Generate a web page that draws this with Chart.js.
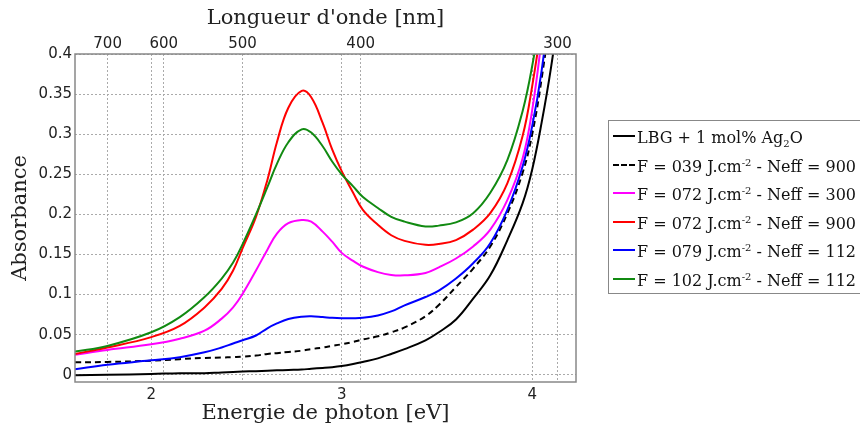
<!DOCTYPE html>
<html>
<head>
<meta charset="utf-8">
<script src="https://cdn.jsdelivr.net/npm/chart.js@4.4.1/dist/chart.umd.min.js"></script>
<style>
  html, body { margin: 0; padding: 0; background: #fff; }
  #wrap { position: relative; width: 860px; height: 429px; overflow: hidden; }
  #legend {
    position: absolute; left: 608px; top: 120px; width: 280px; height: 174px;
    box-sizing: border-box; border: 1.5px solid #888; background: #fff;
    font-family: "DejaVu Serif", serif; font-size: 16px; color: #111;
    padding-top: 3px;
  }
  .row { height: 28.5px; line-height: 28.5px; white-space: nowrap; position: relative; }
  .swatch { display: inline-block; width: 22px; margin: 0 2px 0 4px; vertical-align: 6px; border-top: 2px solid #000; }
  sup, sub { font-size: 10px; line-height: 0; }
</style>
</head>
<body>
<div id="wrap">
  <canvas id="absChart" width="860" height="429"></canvas>
  <div id="legend"></div>
</div>
<script>
// Photon energy grid (eV)
const energy = [1.60, 1.77, 2.00, 2.15, 2.28, 2.37, 2.43, 2.48, 2.55, 2.61, 2.66, 2.72, 2.79, 2.84, 2.90, 2.95, 3.00,
                3.06, 3.11, 3.19, 3.26, 3.33, 3.44, 3.51, 3.60, 3.69, 3.78, 3.87, 3.95, 4.00, 4.05, 4.10, 4.15, 4.20];

// Absorbance for each sample
const lbg = [-0.0005, 0, 0.001, 0.002, 0.002, 0.003, 0.0035, 0.004, 0.0045, 0.005, 0.0055, 0.006, 0.0065, 0.0075, 0.0085, 0.0095, 0.011,
             0.0135, 0.016, 0.0205, 0.026, 0.032, 0.043, 0.053, 0.069, 0.095, 0.124, 0.168, 0.214, 0.256, 0.315, 0.385, 0.47, 0.58];
const f039n900 = [0.0155, 0.016, 0.0175, 0.0195, 0.021, 0.0215, 0.022, 0.0225, 0.024, 0.026, 0.027, 0.0285, 0.030, 0.032, 0.034, 0.036, 0.038,
                  0.041, 0.044, 0.048, 0.053, 0.059, 0.073, 0.087, 0.1095, 0.1325, 0.16, 0.2015, 0.252, 0.30, 0.37, 0.46, 0.60, 0.78];
const f072n300 = [0.025, 0.031, 0.038, 0.045, 0.055, 0.070, 0.084, 0.101, 0.130, 0.156, 0.176, 0.189, 0.193, 0.191, 0.1785, 0.166, 0.152,
                  0.142, 0.135, 0.128, 0.1245, 0.124, 0.127, 0.134, 0.145, 0.160, 0.181, 0.218, 0.27, 0.33, 0.42, 0.53, 0.68, 0.85];
const f072n900 = [0.026, 0.034, 0.047, 0.061, 0.084, 0.107, 0.130, 0.158, 0.197, 0.243, 0.290, 0.333, 0.354, 0.346, 0.314, 0.281, 0.254,
                  0.227, 0.206, 0.187, 0.174, 0.167, 0.162, 0.163, 0.168, 0.181, 0.2015, 0.239, 0.298, 0.36, 0.44, 0.55, 0.70, 0.90];
const f079n112 = [0.007, 0.0125, 0.018, 0.022, 0.028, 0.034, 0.039, 0.043, 0.049, 0.058, 0.064, 0.0695, 0.0725, 0.073, 0.072, 0.071, 0.0705,
                  0.0705, 0.071, 0.074, 0.079, 0.0865, 0.097, 0.105, 0.120, 0.139, 0.164, 0.206, 0.26, 0.31, 0.38, 0.48, 0.62, 0.80];
const f102n112 = [0.029, 0.036, 0.053, 0.072, 0.097, 0.120, 0.140, 0.163, 0.200, 0.234, 0.263, 0.290, 0.306, 0.302, 0.285, 0.266, 0.25,
                  0.235, 0.222, 0.208, 0.197, 0.191, 0.185, 0.186, 0.190, 0.2015, 0.227, 0.268, 0.329, 0.385, 0.46, 0.57, 0.72, 0.90];

const seriesLabels = [
  'LBG + 1 mol% Ag<sub>2</sub>O',
  'F = 039 J.cm<sup>-2</sup> - Neff = 900',
  'F = 072 J.cm<sup>-2</sup> - Neff = 300',
  'F = 072 J.cm<sup>-2</sup> - Neff = 900',
  'F = 079 J.cm<sup>-2</sup> - Neff = 112',
  'F = 102 J.cm<sup>-2</sup> - Neff = 112'
];
const seriesData = [lbg, f039n900, f072n300, f072n900, f079n112, f102n112];
const seriesColors = ['#000000', '#000000', '#ff00ff', '#ff0000', '#0000ff', '#118a11'];
const seriesDash = [[], [6, 4], [], [], [], []];

// Axis ticks
const energyTicks = [2, 3, 4];
const wavelengthTicks = [700, 600, 500, 400, 300];
const absTicks = [0, 0.05, 0.1, 0.15, 0.2, 0.25, 0.3, 0.35, 0.4];
const HC = 1239.84; // eV.nm

const datasets = seriesData.map((vals, i) => ({
  label: seriesLabels[i],
  data: energy.map((e, j) => ({ x: e, y: vals[j] })),
  borderColor: seriesColors[i],
  borderDash: seriesDash[i],
  borderWidth: 2,
  pointRadius: 0,
  tension: 0.4,
  clip: 0
}));

const tickFont = { family: '"DejaVu Sans", sans-serif', size: 15 };
const titleFont = { family: '"DejaVu Serif", serif', size: 21 };
const gridStyle = { color: '#aaaaaa', lineWidth: 1, drawTicks: false };

// Plot frame around the chart area
const framePlugin = {
  id: 'frame',
  afterDatasetsDraw(chart) {
    const a = chart.chartArea;
    const ctx = chart.ctx;
    ctx.save();
    ctx.strokeStyle = '#888';
    ctx.lineWidth = 1.5;
    ctx.strokeRect(a.left, a.top, a.right - a.left, a.bottom - a.top);
    ctx.restore();
  }
};

new Chart(document.getElementById('absChart'), {
  type: 'line',
  data: { datasets: datasets.slice().reverse() },
  options: {
    responsive: false,
    animation: false,
    devicePixelRatio: 1,
    layout: { padding: { left: 0, right: 284, top: 0, bottom: 0 } },
    plugins: { legend: { display: false }, tooltip: { enabled: false } },
    scales: {
      x: {
        type: 'linear', position: 'bottom', min: 1.6, max: 4.23,
        afterBuildTicks: s => { s.ticks = energyTicks.map(v => ({ value: v })); },
        afterFit: s => { s.height = 47; },
        ticks: { font: tickFont, color: '#222', padding: 4, maxRotation: 0, callback: v => String(v) },
        grid: { ...gridStyle },
        border: { display: false, dash: [2, 2] },
        title: { display: true, text: 'Energie de photon [eV]', font: titleFont, color: '#222', padding: { top: 0, bottom: 3 } }
      },
      x2: {
        type: 'linear', position: 'top', min: 1.6, max: 4.23,
        afterBuildTicks: s => { s.ticks = wavelengthTicks.map(w => ({ value: HC / w })); },
        afterFit: s => { s.height = 54; },
        ticks: { font: tickFont, color: '#222', padding: 1, maxRotation: 0, callback: v => String(Math.round(HC / v)) },
        grid: { ...gridStyle },
        border: { display: false, dash: [2, 2] },
        title: { display: true, text: "Longueur d'onde [nm]", font: titleFont, color: '#222', padding: { top: 6, bottom: 0 } }
      },
      y: {
        type: 'linear', min: -0.009, max: 0.4,
        afterBuildTicks: s => { s.ticks = absTicks.map(v => ({ value: v })); },
        afterFit: s => { s.width = 75; },
        ticks: { font: tickFont, color: '#222', padding: 3, callback: v => String(Math.round(v * 100) / 100) },
        grid: { ...gridStyle },
        border: { display: false, dash: [2, 2] },
        title: { display: true, text: 'Absorbance', font: titleFont, color: '#222', padding: { top: 8, bottom: 0 } }
      }
    }
  },
  plugins: [framePlugin]
});

// Legend with super/subscripts
const legend = document.getElementById('legend');
seriesLabels.forEach((lab, i) => {
  const row = document.createElement('div');
  row.className = 'row';
  const sw = document.createElement('span');
  sw.className = 'swatch';
  sw.style.borderTopColor = seriesColors[i];
  if (seriesDash[i].length) sw.style.borderTopStyle = 'dashed';
  row.appendChild(sw);
  const txt = document.createElement('span');
  txt.innerHTML = lab;
  row.appendChild(txt);
  legend.appendChild(row);
});
</script>
</body>
</html>
